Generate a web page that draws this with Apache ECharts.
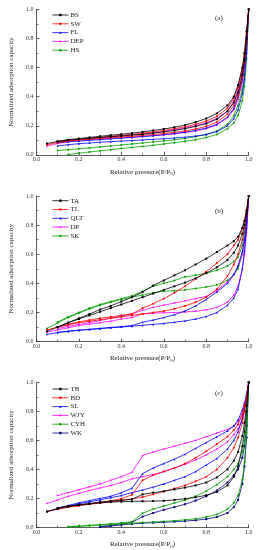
<!DOCTYPE html>
<html><head><meta charset="utf-8">
<script src="https://cdn.jsdelivr.net/npm/echarts@6/dist/echarts.min.js"></script>
<style>html,body{margin:0;padding:0;background:#fff}#c{width:264px;height:550px}</style>
</head><body><div id="c"></div>
<script>
// Relative pressure grids (adsorption up, desorption down)
const P_ADS = [0.05,0.1,0.15,0.2,0.25,0.3,0.35,0.4,0.45,0.5,0.55,0.6,0.65,0.7,0.75,0.8,0.85,0.9,0.93,0.95,0.97,0.98,0.99,1.0];
const P_DES = [0.99,0.98,0.97,0.95,0.93,0.9,0.85,0.8,0.75,0.7,0.65,0.6,0.55,0.5,0.45,0.4,0.35,0.3,0.25,0.2,0.15,0.1];

// Panel (a)
const BS_ads = [0.078,0.092,0.102,0.108,0.114,0.12,0.125,0.13,0.136,0.142,0.15,0.158,0.168,0.18,0.196,0.215,0.245,0.3,0.36,0.43,0.55,0.65,0.8,1.0];
const BS_des = [0.85,0.7,0.6,0.48,0.4,0.34,0.285,0.25,0.225,0.205,0.19,0.178,0.168,0.158,0.15,0.142,0.135,0.128,0.12,0.112,0.104,0.094];
const SW_ads = [0.07,0.085,0.095,0.102,0.108,0.113,0.118,0.123,0.128,0.134,0.14,0.147,0.155,0.165,0.178,0.196,0.225,0.28,0.34,0.41,0.53,0.63,0.78,1.0];
const SW_des = [0.84,0.69,0.59,0.47,0.39,0.32,0.265,0.232,0.21,0.193,0.18,0.168,0.158,0.149,0.141,0.134,0.127,0.12,0.114,0.107,0.1,0.09];
const FL_ads = [null,0.062,0.07,0.077,0.082,0.087,0.091,0.095,0.099,0.103,0.107,0.111,0.116,0.122,0.13,0.14,0.16,0.2,0.25,0.31,0.42,0.52,0.7,1.0];
const FL_des = [0.78,0.62,0.52,0.4,0.32,0.26,0.21,0.185,0.168,0.156,0.147,0.139,0.132,0.126,0.12,0.115,0.11,0.105,0.1,0.095,0.09,0.085];
const DEP_ads = [0.06,0.078,0.09,0.098,0.104,0.109,0.114,0.118,0.122,0.127,0.132,0.138,0.145,0.153,0.165,0.18,0.205,0.255,0.31,0.38,0.5,0.6,0.76,1.0];
const DEP_des = [0.82,0.67,0.57,0.45,0.37,0.3,0.25,0.22,0.2,0.185,0.172,0.162,0.153,0.145,0.138,0.131,0.125,0.118,0.112,0.105,0.098,0.088];
const HS_ads = [null,null,0.002,0.012,0.02,0.028,0.036,0.044,0.051,0.058,0.066,0.075,0.084,0.093,0.104,0.12,0.14,0.18,0.22,0.27,0.37,0.47,0.66,1.0];
const HS_des = [0.72,0.55,0.45,0.34,0.27,0.21,0.165,0.14,0.125,0.113,0.104,0.096,0.089,0.082,0.075,0.068,0.061,0.055,0.048,0.042,0.036,0.03];

// Panel (b)
const TA_ads = [0.07,0.1,0.13,0.155,0.18,0.205,0.23,0.255,0.28,0.305,0.33,0.355,0.38,0.405,0.435,0.47,0.51,0.56,0.61,0.66,0.74,0.8,0.88,1.0];
const TA_des = [0.9,0.83,0.78,0.72,0.69,0.66,0.615,0.57,0.53,0.49,0.455,0.42,0.385,0.34,0.305,0.275,0.245,0.22,0.19,0.16,0.13,0.1];
const TL_ads = [0.08,0.1,0.115,0.13,0.14,0.15,0.16,0.17,0.18,0.19,0.2,0.21,0.225,0.245,0.27,0.305,0.36,0.45,0.53,0.6,0.7,0.78,0.87,1.0];
const TL_des = [0.9,0.83,0.78,0.7,0.66,0.6,0.54,0.48,0.43,0.38,0.335,0.295,0.26,0.23,0.19,0.18,0.17,0.16,0.148,0.135,0.12,0.1];
const QLT_ads = [0.05,0.062,0.07,0.077,0.083,0.089,0.095,0.1,0.106,0.112,0.118,0.125,0.133,0.142,0.155,0.172,0.2,0.25,0.3,0.36,0.5,0.62,0.78,1.0];
const QLT_des = [0.82,0.7,0.62,0.52,0.46,0.4,0.34,0.29,0.245,0.21,0.185,0.165,0.148,0.133,0.11,0.103,0.097,0.091,0.085,0.079,0.072,0.064];
const DP_ads = [0.065,0.08,0.095,0.11,0.12,0.13,0.14,0.155,0.165,0.19,0.195,0.198,0.2,0.203,0.208,0.218,0.235,0.27,0.32,0.38,0.5,0.6,0.75,1.0];
const DP_des = [0.8,0.68,0.6,0.52,0.46,0.41,0.35,0.31,0.295,0.28,0.265,0.25,0.235,0.215,0.19,0.175,0.16,0.145,0.13,0.118,0.105,0.09];
const SK_ads = [0.09,0.13,0.165,0.195,0.225,0.25,0.27,0.29,0.305,0.32,0.335,0.345,0.35,0.355,0.365,0.375,0.39,0.42,0.46,0.5,0.6,0.7,0.83,1.0];
const SK_des = [0.86,0.75,0.66,0.58,0.55,0.52,0.49,0.47,0.455,0.445,0.42,0.4,0.38,0.345,0.315,0.295,0.275,0.255,0.23,0.2,0.17,0.135];

// Panel (c)
const TB_ads = [0.11,0.13,0.145,0.155,0.163,0.17,0.175,0.178,0.18,0.181,0.182,0.184,0.19,0.198,0.208,0.222,0.245,0.29,0.35,0.42,0.56,0.66,0.8,1.0];
const TB_des = [0.84,0.72,0.63,0.52,0.46,0.4,0.345,0.31,0.29,0.275,0.262,0.25,0.24,0.228,0.195,0.188,0.182,0.175,0.165,0.157,0.147,0.133];
const BD_ads = [0.11,0.125,0.14,0.15,0.16,0.168,0.177,0.186,0.196,0.21,0.228,0.248,0.268,0.29,0.318,0.35,0.4,0.48,0.55,0.62,0.72,0.8,0.88,1.0];
const BD_des = [0.9,0.84,0.78,0.71,0.67,0.625,0.575,0.525,0.48,0.44,0.41,0.385,0.36,0.325,0.225,0.198,0.185,0.173,0.163,0.153,0.143,0.128];
const SL_ads = [0.11,0.13,0.148,0.163,0.177,0.19,0.205,0.22,0.24,0.258,0.278,0.3,0.325,0.35,0.385,0.43,0.475,0.54,0.6,0.66,0.75,0.82,0.9,1.0];
const SL_des = [0.92,0.86,0.81,0.74,0.7,0.665,0.625,0.585,0.545,0.505,0.47,0.44,0.41,0.37,0.27,0.24,0.215,0.2,0.185,0.17,0.152,0.135];
const WJY_ads = [0.165,0.19,0.215,0.235,0.255,0.272,0.29,0.31,0.335,0.35,0.365,0.385,0.41,0.435,0.465,0.5,0.54,0.59,0.64,0.68,0.75,0.82,0.9,1.0];
const WJY_des = [0.91,0.84,0.78,0.73,0.7,0.675,0.65,0.625,0.6,0.58,0.56,0.54,0.52,0.495,0.38,0.35,0.325,0.3,0.28,0.26,0.24,0.22];
const CYH_ads = [null,null,0.003,0.008,0.012,0.016,0.02,0.025,0.03,0.034,0.038,0.042,0.047,0.053,0.06,0.072,0.09,0.125,0.17,0.22,0.33,0.45,0.65,1.0];
const CYH_des = [0.75,0.6,0.52,0.44,0.4,0.35,0.295,0.25,0.215,0.19,0.168,0.148,0.127,0.098,0.04,0.032,0.026,0.02,0.015,0.01,0.005,null];
const WK_ads = [null,null,null,null,null,0.003,0.01,0.018,0.025,0.03,0.033,0.036,0.04,0.044,0.05,0.058,0.072,0.1,0.14,0.19,0.3,0.42,0.62,1.0];
const WK_des = [0.7,0.56,0.48,0.4,0.36,0.31,0.255,0.215,0.185,0.16,0.14,0.122,0.1,0.075,0.035,0.025,0.015,0.007,null,null,null,null];

const PANELS = [
  {label:'(a)', samples:[['BS',BS_ads,BS_des],['SW',SW_ads,SW_des],['FL',FL_ads,FL_des],['DEP',DEP_ads,DEP_des],['HS',HS_ads,HS_des]]},
  {label:'(b)', samples:[['TA',TA_ads,TA_des],['TL',TL_ads,TL_des],['QLT',QLT_ads,QLT_des],['DP',DP_ads,DP_des],['SK',SK_ads,SK_des]]},
  {label:'(c)', samples:[['TB',TB_ads,TB_des],['BD',BD_ads,BD_des],['SL',SL_ads,SL_des],['WJY',WJY_ads,WJY_des],['CYH',CYH_ads,CYH_des],['WK',WK_ads,WK_des]]}
];
const COLORS = ['#000000','#ff0000','#0000ff','#ff00ff','#00a000','#000080'];
const SYMBOLS = ['rect','circle','triangle','diamond','circle','rect'];

const FONT = 'Liberation Serif';
const gridTops = [9.3, 196, 382.3];
const legendTops = [10.6, 196.3, 384.6];
const labelTops = [14.3, 207.7, 389.3];

const grids=[], xAxes=[], yAxes=[], legends=[], series=[], titles=[];
PANELS.forEach((pn, k) => {
  grids.push({left:30, top:gridTops[k], width:218.7, height:145.6, containLabel:false});
  xAxes.push({type:'value', gridIndex:k, min:0, max:1, interval:0.2,
    name:'Relative pressure(P/P{s|0})', nameLocation:'middle', nameGap:12.5,
    nameTextStyle:{fontFamily:FONT, fontSize:7, color:'#222', rich:{s:{fontSize:5, fontFamily:FONT, padding:[4,0,0,0], color:'#222'}}},
    axisLine:{show:true, onZero:false, lineStyle:{color:'#333', width:0.8}},
    axisTick:{show:true, inside:true, length:3, lineStyle:{color:'#333', width:0.8}},
    minorTick:{show:true, splitNumber:2, length:2, lineStyle:{color:'#333', width:0.6}},
    splitLine:{show:false},
    axisLabel:{fontFamily:FONT, fontSize:6, color:'#333', margin:2, formatter:v=>v.toFixed(1)}
  });
  yAxes.push({type:'value', gridIndex:k, min:0, max:1, interval:0.2,
    name:'Normalized adsorption capacity', nameLocation:'middle', nameGap:16,
    nameTextStyle:{fontFamily:FONT, fontSize:7, color:'#222'},
    axisLine:{show:true, onZero:false, lineStyle:{color:'#333', width:0.8}},
    axisTick:{show:true, inside:true, length:3, lineStyle:{color:'#333', width:0.8}},
    minorTick:{show:true, splitNumber:2, length:2, lineStyle:{color:'#333', width:0.6}},
    splitLine:{show:false},
    axisLabel:{fontFamily:FONT, fontSize:6, color:'#333', margin:3, formatter:v=>v.toFixed(1)}
  });
  titles.push({text:pn.label, left:215, top:labelTops[k], padding:0, textStyle:{fontFamily:FONT, fontSize:7, fontWeight:'normal', color:'#222'}});
  const names = [];
  pn.samples.forEach((s, j) => {
    const [name, ads, des] = s;
    names.push(name);
    const data = P_ADS.map((p,i)=>[p, ads[i]]).filter(d=>d[1]!=null)
      .concat(P_DES.map((p,i)=>[p, des[i]]).filter(d=>d[1]!=null));
    series.push({type:'line', name, xAxisIndex:k, yAxisIndex:k, data,
      symbol:SYMBOLS[j], symbolSize:2, showSymbol:true,
      lineStyle:{width:0.8, color:COLORS[j]}, itemStyle:{color:COLORS[j]},
      animation:false, z:10-j});
  });
  legends.push({data:names, orient:'vertical', left:52, top:legendTops[k], padding:0,
    itemWidth:16, itemHeight:3, itemGap:0,
    lineStyle:{width:0.8}, itemStyle:{borderWidth:0},
    textStyle:{fontFamily:FONT, fontSize:7, color:'#222', lineHeight:8.8, padding:[0,0,0,-3]},
    selectedMode:false});
});

const chart = echarts.init(document.getElementById('c'), null, {renderer:'canvas'});
chart.setOption({backgroundColor:'#fff', animation:false, title:titles, grid:grids, xAxis:xAxes, yAxis:yAxes, legend:legends, series});
</script></body></html>
